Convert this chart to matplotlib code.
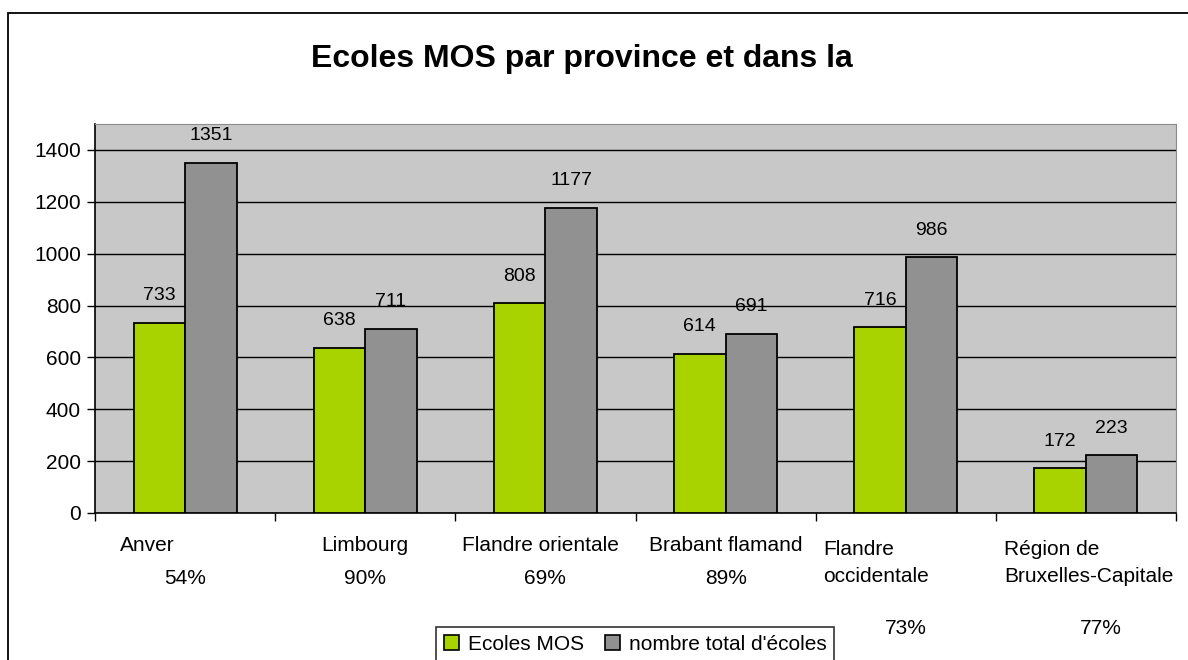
import matplotlib
matplotlib.use('Agg')
import matplotlib.pyplot as plt
from matplotlib.patches import Patch, Rectangle
import numpy as np

plt.rcParams['font.family'] = ['Liberation Sans', 'DejaVu Sans']

# Données du graphique
provinces = ['Anver', 'Limbourg', 'Flandre orientale', 'Brabant flamand',
             'Flandre\noccidentale', 'Région de\nBruxelles-Capitale']
ecoles_mos = [733, 638, 808, 614, 716, 172]
total_ecoles = [1351, 711, 1177, 691, 986, 223]
pourcentages = ['54%', '90%', '69%', '89%', '73%', '77%']

vert = '#A9D300'
gris = '#919191'

fig = plt.figure(figsize=(11.88, 6.6), dpi=100)
ax = fig.add_axes([95 / 1188, 147 / 660, 1081 / 1188, 389 / 660])
ax.set_facecolor('#C8C8C8')

x = np.arange(len(provinces))
w = 1 / 3.5
b1 = ax.bar(x - w / 2, ecoles_mos, w, color=vert, edgecolor='black', linewidth=1.3, zorder=3)
b2 = ax.bar(x + w / 2, total_ecoles, w, color=gris, edgecolor='black', linewidth=1.3, zorder=3)

for bars in (b1, b2):
    for r in bars:
        ax.annotate(str(int(r.get_height())), (r.get_x() + r.get_width() / 2, r.get_height()),
                    xytext=(0, 19.5), textcoords='offset points', ha='center', va='center',
                    fontsize=14)

ax.set_xlim(-0.5, len(provinces) - 0.5)
ax.set_ylim(0, 1500)
ax.set_yticks(range(0, 1401, 200))
ax.yaxis.grid(True, color='black', linewidth=1, zorder=1)
ax.set_xticks(np.arange(-0.5, len(provinces), 1))
ax.set_xticklabels([])
ax.tick_params(axis='both', direction='out', length=6, width=1, labelsize=15, color='black')
ax.tick_params(axis='y', pad=4)

for s in ('top', 'right'):
    ax.spines[s].set_color('#8C8C8C')
for s in ('left', 'bottom'):
    ax.spines[s].set_color('black')
    ax.spines[s].set_linewidth(1.2)

# étiquettes des catégories (placement comme dans Excel)
nom_x = [-0.36, 1.0, 1.97, 3.0, 3.544, 4.544]
nom_ha = ['left', 'center', 'center', 'center', 'left', 'left']
nom_y = [-127, -127, -127, -127, -193, -193]
pct_x = [0, 1, 2, 3, 4, 5.08]
pct_y = [-254, -254, -254, -254, -447, -447]
for i in range(len(provinces)):
    ax.text(nom_x[i], nom_y[i], provinces[i], ha=nom_ha[i], va='center',
            multialignment='left', fontsize=15, linespacing=1.5, clip_on=False)
    ax.text(pct_x[i], pct_y[i], pourcentages[i], ha='center', va='center',
            fontsize=15, clip_on=False)

fig.text(582 / 1188, 1 - 59 / 660, 'Ecoles MOS par province et dans la',
         ha='center', va='center', fontsize=23, fontweight='bold')

handles = [Patch(facecolor=vert, edgecolor='black', linewidth=1.2),
           Patch(facecolor=gris, edgecolor='black', linewidth=1.2)]
leg = fig.legend(handles, ['Ecoles MOS', "nombre total d'écoles"],
                 loc='center', bbox_to_anchor=(635 / 1188, 1 - 644 / 660),
                 ncol=2, fontsize=15, frameon=True, fancybox=False,
                 handlelength=0.75, handleheight=0.75, handletextpad=0.4,
                 columnspacing=1.0, borderpad=0.35)
leg.get_frame().set_edgecolor('black')
leg.get_frame().set_linewidth(1.2)

fig.patches.append(Rectangle((8 / 1188, -0.1), 1.2, 1.1 - 13 / 660, transform=fig.transFigure,
                             fill=False, edgecolor='black', linewidth=1.3))

fig.savefig('out.png', dpi=100)
